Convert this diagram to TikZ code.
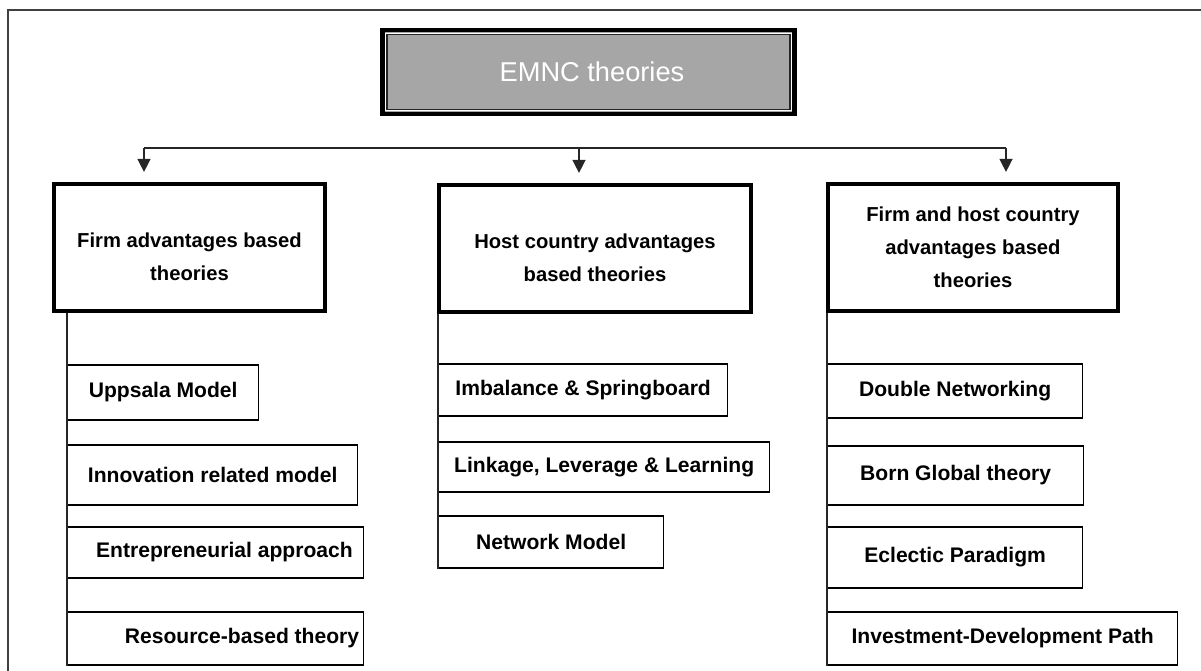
\documentclass[tikz,border=0pt]{standalone}
\usepackage{fontspec}
\setmainfont{Liberation Sans}
\usepackage{tikz}
\usetikzlibrary{arrows.meta, positioning, calc}
\definecolor{TitleGray}{RGB}{166,166,166}
\definecolor{FrameGray}{RGB}{64,64,64}

\begin{document}
\begin{tikzpicture}[x=0.02cm, y=-0.02cm,
	font=\bfseries\fontsize{11.5}{18.7}\selectfont,
	top/.style={draw=black, line width=2.6pt, fill=TitleGray, text=white, font=\fontsize{15.5}{18}\selectfont, minimum width=8.25cm, minimum height=1.68cm, inner sep=0pt},
	grp/.style={draw=black, line width=2.4pt, align=center, minimum height=2.54cm, inner sep=0pt},
	item/.style={draw=black, line width=0.8pt, anchor=west, inner sep=0pt, font=\bfseries\fontsize{12}{14}\selectfont},
	bus/.style={line width=0.8pt, black!85},
	arr/.style={-{Triangle[length=2.6mm, width=2.6mm]}, line width=0.8pt, black!85, shorten >=0.2cm}]

	\useasboundingbox (0,0) rectangle (1201,671);
	\draw[FrameGray, line width=1.2pt] (8,700) -- (8,10) -- (1230,10);

	\node[top] (emnc) at (588.5,72) {\hspace*{4pt}EMNC theories};
	\draw[white, line width=0.6pt] ($(emnc.north west)+(5.4,5.4)$) rectangle ($(emnc.south east)+(-5.4,-5.4)$);
	\draw[black!85, line width=0.7pt] ($(emnc.north west)+(6.9,6.9)$) rectangle ($(emnc.south east)+(-6.9,-6.9)$);

	\node[grp, minimum width=5.42cm] (firm) at (189.5,247.5) {\rule{0pt}{19pt}Firm advantages based\\theories};
	\node[grp, minimum width=6.24cm] (host) at (595,248.5) {\rule{0pt}{19pt}Host country advantages\\based theories};
	\node[grp, minimum width=5.8cm]  (both) at (973,247.5) {Firm and host country\\advantages based\\theories};

	\node[item, minimum width=3.82cm, minimum height=1.1cm]  (u1) at (67,392.5) {Uppsala Model};
	\node[item, minimum width=5.8cm,  minimum height=1.2cm]  (u2) at (67,475)   {Innovation related model};
	\node[item, minimum width=5.92cm, minimum height=1.02cm] (u3) at (67,552.5) {\hspace*{10pt}Entrepreneurial approach};
	\node[item, minimum width=5.92cm, minimum height=1.06cm] (u4) at (67,638.5) {\hspace*{30pt}Resource-based theory};

	\node[item, minimum width=5.78cm, minimum height=1.04cm] (h1) at (438,390) {Imbalance \& Springboard};
	\node[item, minimum width=6.62cm, minimum height=1.0cm]  (h2) at (438,467) {Linkage, Leverage \& Learning};
	\node[item, minimum width=4.5cm,  minimum height=1.04cm] (h3) at (438,542) {Network Model};

	\node[item, minimum width=5.1cm,  minimum height=1.08cm] (b1) at (827,391)   {Double Networking};
	\node[item, minimum width=5.12cm, minimum height=1.18cm] (b2) at (827,475.5) {Born Global theory};
	\node[item, minimum width=5.1cm,  minimum height=1.22cm] (b3) at (827,557.5) {Eclectic Paradigm};
	\node[item, minimum width=7.0cm,  minimum height=1.06cm] (b4) at (827,638.5) {Investment-Development Path};

	\coordinate (a1) at (144,148);
	\coordinate (a2) at (579,148);
	\coordinate (a3) at (1006,148);
	\draw[bus] (a1) -- (a3);
	\draw[arr] (a1) -- (a1 |- firm.north);
	\draw[arr] (a2) -- (a2 |- host.north);
	\draw[arr] (a3) -- (a3 |- both.north);

	\draw[bus] (firm.south -| u1.west) -- (u4.south west);
	\draw[bus] (host.south -| h1.west) -- (h3.south west);
	\draw[bus] (both.south -| b1.west) -- (b4.south west);
\end{tikzpicture}
\end{document}
